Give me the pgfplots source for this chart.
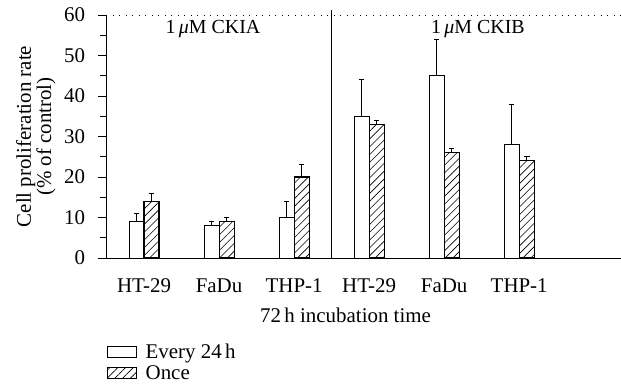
\documentclass[border=0pt]{standalone}
\usepackage{fontspec}
\setmainfont{Liberation Serif}
\usepackage{pgfplots}
\usepackage{pgfplotstable}
\pgfplotsset{compat=1.18}
\usetikzlibrary{patterns.meta}

% Proliferation rate (% of control) after 72 h; columns: bar centre, mean, upper error
\pgfplotstableread{
x     y   e
1.6   9   2
5.6   8   1
9.6   10  4
13.6  35  9
17.6  45  9
21.6  28  10
}\everyday
\pgfplotstableread{
x     y   e
2.4   14  2
6.4   9   1
10.4  20  3
14.4  33  1
18.4  26  1
22.4  24  1
}\once

\newcommand\labelfont{\fontsize{21}{22}\selectfont}

\begin{document}
\begin{tikzpicture}
\begin{axis}[
  scale only axis, width=514bp, height=243bp,
  xmin=0, xmax=27.4, ymin=0, ymax=60,
  axis x line=bottom, axis y line=left,
  axis line style={-, line width=1bp, black},
  clip=false,
  font=\labelfont,
  /pgf/number format/assume math mode=true,
  ytick={0,10,...,60}, minor ytick={5,15,...,55},
  tick align=outside,
  major tick length=8bp, minor tick length=6bp,
  tick style={line width=0.8bp, black},
  yticklabel style={font=\labelfont, xshift=-10bp},
  xtick={2,6,10,14,18,22},
  xticklabels={HT-29,FaDu,THP-1,HT-29,FaDu,THP-1},
  xtick style={draw=none},
  xticklabel style={font=\labelfont, yshift=-9bp},
  minor xtick={1,...,27},
  minor x tick style={/pgfplots/minor tick length=2.5bp, line width=0.8bp},
  xlabel={72\,h incubation time},
  xlabel style={font=\labelfont, yshift=-9bp, xshift=-18bp},
  ylabel={Cell proliferation rate\\(\% of control)},
  ylabel style={align=center, font=\fontsize{21}{17}\selectfont,
    at={(axis description cs:-0.1375,0.5)}, anchor=center},
  legend style={at={(axis description cs:0,-0.345)}, anchor=north west,
    draw=none, fill=none, inner sep=0pt, row sep=3bp,
    font=\labelfont,
    nodes={inner sep=1.5bp}},
  legend cell align=left,
]
% dotted upper boundary and separator between the two inhibitors
\addplot[black, line width=1bp, dash pattern=on 1bp off 5.5bp, forget plot]
  coordinates {(0,60) (27.4,60)};
\addplot[black, line width=0.9bp, forget plot]
  coordinates {(12,0) (12,61.2)};

\addplot[ybar, bar width=0.8, bar shift=0, fill=white, draw=black,
  line width=0.9bp,
  legend image code/.code={\draw[fill=white, draw=black, line width=0.9bp]
    (0bp,-5.5bp) rectangle (29bp,5.5bp); \path[draw=none] (29bp,0) -- (37bp,0);},
  error bars/.cd, y dir=plus, y explicit,
  error bar style={line width=0.9bp, black},
  error mark options={line width=0.9bp, mark size=2.8bp, black, rotate=90}]
  table[x=x, y=y, y error=e] {\everyday};
\addlegendentry{Every 24\,h}

\addplot[ybar, bar width=0.8, bar shift=0, draw=black,
  pattern={Lines[angle=45, distance=5.5bp, line width=0.6bp]},
  pattern color=black,
  line width=1.1bp,
  legend image code/.code={\draw[draw=black, line width=0.9bp,
    pattern={Lines[angle=45, distance=5.5bp, line width=0.6bp]}]
    (0bp,-5.5bp) rectangle (29bp,5.5bp); \path[draw=none] (29bp,0) -- (37bp,0);},
  error bars/.cd, y dir=plus, y explicit,
  error bar style={line width=0.9bp, black},
  error mark options={line width=0.9bp, mark size=2.8bp, black, rotate=90}]
  table[x=x, y=y, y error=e] {\once};
\addlegendentry{Once}

\node[font=\fontsize{20}{21}\selectfont] at (axis cs:5.68,56.6) {1\,\textit{μ}M CKIA};
\node[font=\fontsize{20}{21}\selectfont] at (axis cs:19.8,56.6) {1\,\textit{μ}M CKIB};
\end{axis}
\pgfresetboundingbox
\useasboundingbox (-106.5bp,-134bp) rectangle (514.5bp,258bp);
\end{tikzpicture}
\end{document}
